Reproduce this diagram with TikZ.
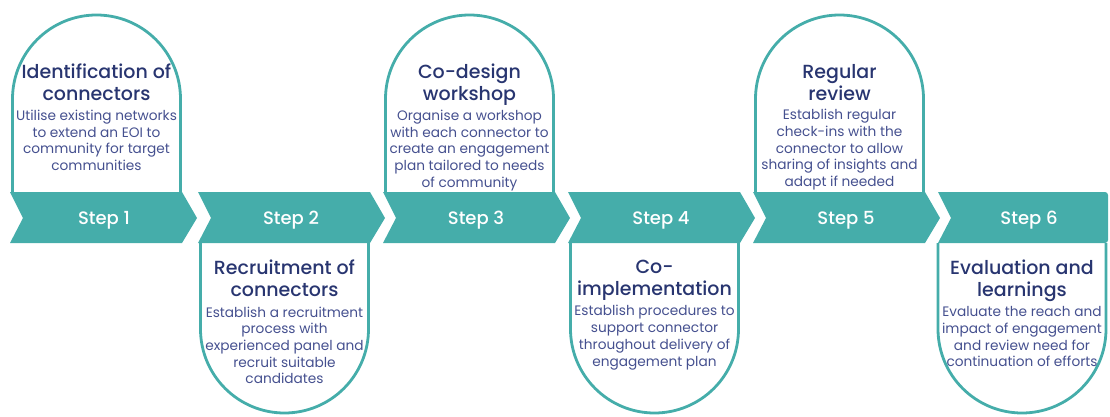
\documentclass[tikz,border=0pt]{standalone}
\usepackage{fontspec}
\setmainfont{Poppins}
\newfontfamily\headfont{Poppins Medium}
\usetikzlibrary{positioning}

\definecolor{stepteal}{HTML}{45ADAA}
\definecolor{headnavy}{HTML}{283570}
\definecolor{bodynavy}{HTML}{45508F}

\begin{document}
\begin{tikzpicture}[x=1pt,y=-1pt,
  chevron/.style={fill=stepteal},
  outline/.style={draw=stepteal,line width=2.8pt},
  steplabel/.style={text=white,anchor=base,font=\headfont\fontsize{18}{20}\selectfont},
  heading/.style={text=headnavy,align=center,inner sep=0pt,
    font=\headfont\fontsize{19}{22}\selectfont,
    execute at begin node={\rule[-6.6pt]{0pt}{22pt}},
    execute at end node={\rule[-6.6pt]{0pt}{22pt}}},
  blurb/.style={text=bodynavy,align=center,inner sep=0pt,
    font=\fontsize{13.7}{16.7}\selectfont,
    execute at begin node={\rule[-5pt]{0pt}{16.7pt}}}]
\useasboundingbox (0,0) rectangle (1110,417);

% arches above the odd steps
\draw[outline] (12.5,192) -- (12.5,99) arc (180:360:84) -- (180.5,192);
\draw[outline] (385.5,192) -- (385.5,99) arc (180:360:84) -- (553.5,192);
\draw[outline] (755.5,192) -- (755.5,99) arc (180:360:84) -- (923.5,192);

% shields below the even steps
\draw[outline] (200.5,243) -- (200.5,329) arc (180:0:84) -- (368.5,243);
\draw[outline] (570.5,243) -- (570.5,329) arc (180:0:84) -- (738.5,243);
\draw[outline] (938,243) -- (938,329) arc (180:0:84) -- (1106,243);

% chevron band
\fill[chevron] (10,192) -- (182,192) -- (197,218) -- (182,243) -- (10,243) -- (23,218) -- cycle;
\node (step1) [steplabel] at (104,224.3) {Step 1};
\foreach \xl/\n in {198/2,383/3,568/4,753/5} {
  \fill[chevron] (\xl,192) -- ++(172,0) -- ++(15,26) -- ++(-15,25) -- ++(-172,0) -- ++(13,-25) -- cycle;
  \node (step\n) [steplabel] at (\xl+93,224.3) {Step \n};
}
\fill[chevron, rounded corners=3pt] (938,192) -- (1108,192) -- (1108,243) [sharp corners] -- (938,243) -- (951,218) -- cycle;
\node (step6) [steplabel] at (1029,224.3) {Step 6};

% top texts
\node (head1) [heading, anchor=north] at (96.5,63.8) {Identification of\\connectors};
\node (text1) [blurb, below=2.4pt of head1] {Utilise existing networks\\to extend an EOI to\\community for target\\communities};

\node (head3) [heading, anchor=north] at (469.5,63.8) {Co-design\\workshop};
\node (text3) [blurb, below=2.4pt of head3] {Organise a workshop\\with each connector to\\create an engagement\\plan tailored to needs\\of community};

\node (head5) [heading, anchor=north] at (839.5,63.8) {Regular\\review};
\node (text5) [blurb, below=2.4pt of head5] {Establish regular\\check-ins with the\\connector to allow\\sharing of insights and\\adapt if needed};

% bottom texts
\node (head2) [heading, anchor=north] at (284.5,259.5) {Recruitment of\\connectors};
\node (text2) [blurb, below=3.4pt of head2] {Establish a recruitment\\process with\\experienced panel and\\recruit suitable\\candidates};

\node (head4) [heading, anchor=north] at (654.5,259.5) {Co-\\implementation};
\node (text4) [blurb, below=3.4pt of head4] {Establish procedures to\\support connector\\throughout delivery of\\engagement plan};

\node (head6) [heading, anchor=north] at (1022,259.5) {Evaluation and\\learnings};
\node (text6) [blurb, below=3.4pt of head6] {Evaluate the reach and\\impact of engagement\\and review need for\\continuation of efforts};
\end{tikzpicture}
\end{document}
